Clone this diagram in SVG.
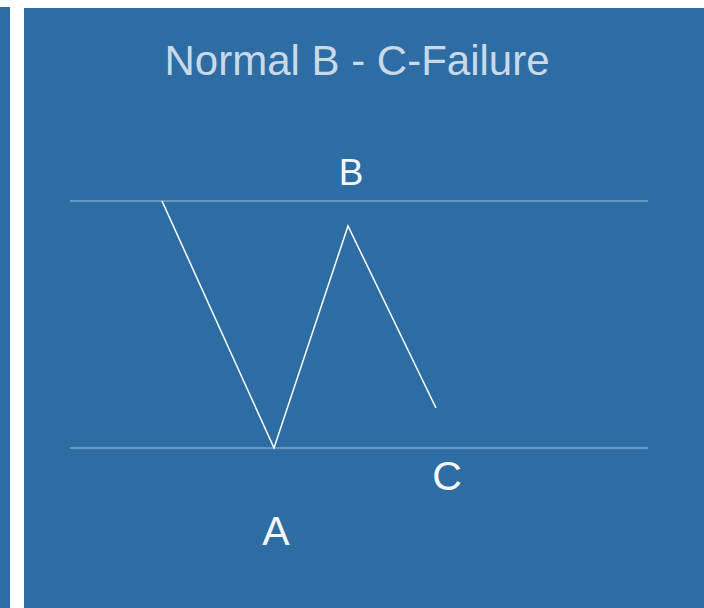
<svg xmlns="http://www.w3.org/2000/svg" width="704" height="608" viewBox="0 0 704 608">
<style>
.bg{fill:#2e6da4}
.hline{stroke:#9dbedb;stroke-width:1.2;fill:none}
.zig{stroke:#ffffff;stroke-width:1.5;fill:none;stroke-linejoin:miter}
.title{font-family:"Liberation Sans",Arial,sans-serif;font-size:42px;fill:#c8d9ea;text-anchor:middle}
.lbl{font-family:"Liberation Sans",Arial,sans-serif;fill:#f4f7fa;text-anchor:middle}
</style>
<rect x="0" y="0" width="704" height="608" fill="#ffffff"/>
<rect class="bg" x="0" y="7" width="10" height="601"/>
<rect class="bg" x="24" y="8" width="680" height="600"/>
<text class="title" x="357" y="75">Normal B - C-Failure</text>
<g id="connectors">
<line class="hline" x1="70" y1="201" x2="648" y2="201"/>
<line class="hline" x1="70" y1="448" x2="648" y2="448"/>
<polyline class="zig" points="162,201 274,448 348,226 436,408"/>
</g>
<g id="B"><text class="lbl" x="351" y="185" font-size="37">B</text></g>
<g id="A"><text class="lbl" x="276" y="545" font-size="41">A</text></g>
<g id="C"><text class="lbl" x="447" y="490" font-size="41">C</text></g>
</svg>
